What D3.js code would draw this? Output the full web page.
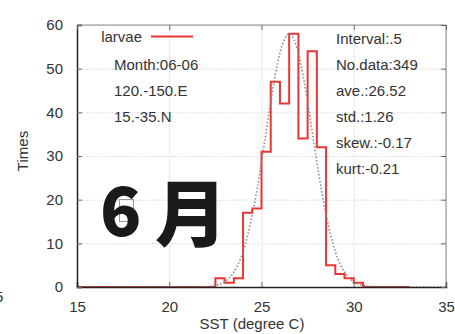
<!DOCTYPE html>
<html>
<head>
<meta charset="utf-8">
<script src="https://cdn.jsdelivr.net/npm/d3@7"></script>
<style>
  body { margin: 0; background: #fff; }
  text { font-family: "Liberation Sans", Arial, sans-serif; }
</style>
</head>
<body>
<div id="chart"></div>
<script>
// histogram bins (left edge, width .5) and counts
var binLeft = [22.5, 23, 23.5, 24, 24.5, 25, 25.5, 26, 26.5, 27, 27.5, 28, 28.5, 29, 29.5, 30];
var counts  = [2, 1, 2, 17, 18, 31, 47, 42, 58, 34, 54, 32, 5, 3, 2, 1];

// normal curve
var fitX = [15, 21, 21.5, 22, 22.5, 23, 23.5, 24, 24.5, 25, 25.5, 26, 26.5, 27, 27.5, 28, 28.5, 29, 29.5, 30, 30.5, 31, 31.5, 32, 35];
var fitY = [0, 0, 0.05, 0.1, 0.4, 1.2, 3.4, 8.1, 16.5, 28.6, 42.4, 53.6, 58, 53.6, 42.4, 28.6, 16.5, 8.1, 3.4, 1.2, 0.4, 0.1, 0.05, 0, 0];

var xTicks = [15, 20, 25, 30, 35];
var yTicks = [0, 10, 20, 30, 40, 50, 60];

var leftNotes  = ["Month:06-06", "120.-150.E", "15.-35.N"];
var rightNotes = ["Interval:.5", "No.data:349", "ave.:26.52", "std.:1.26", "skew.:-0.17", "kurt:-0.21"];

// set the dimensions of the graph
var W = 455, H = 334;
var pLeft = 77, pRight = 446, pTop = 25, pBottom = 287;

var svg = d3.select("#chart")
  .append("svg")
    .attr("width", W)
    .attr("height", H);

var x = d3.scaleLinear().domain([15, 35]).range([pLeft, pRight]);
var y = d3.scaleLinear().domain([0, 60]).range([pBottom, pTop]);

// grid
svg.append("g")
  .attr("transform", "translate(0," + pBottom + ")")
  .call(d3.axisBottom(x).tickValues(xTicks).tickSize(-(pBottom - pTop)).tickFormat(""))
  .call(function(g) {
    g.select(".domain").remove();
    g.selectAll("line").attr("stroke", "#c8ccd8").attr("stroke-dasharray", "1,1.5");
  });
svg.append("g")
  .attr("transform", "translate(" + pLeft + ",0)")
  .call(d3.axisLeft(y).tickValues(yTicks).tickSize(-(pRight - pLeft)).tickFormat(""))
  .call(function(g) {
    g.select(".domain").remove();
    g.selectAll("line").attr("stroke", "#c8ccd8").attr("stroke-dasharray", "1,1.5");
  });

// big month label
svg.append("rect")
  .attr("x", 119.5).attr("y", 199.5).attr("width", 14).attr("height", 22)
  .attr("fill", "none").attr("stroke", "#999").attr("stroke-width", 1);
svg.append("text")
  .attr("x", 100).attr("y", 236)
  .style("font-family", "'Noto Sans CJK JP', 'Noto Sans', sans-serif")
  .style("font-weight", 900)
  .attr("font-size", "68px")
  .attr("fill", "#1a1a1a")
  .text("6");
svg.append("text")
  .attr("x", 155).attr("y", 240)
  .style("font-family", "'Noto Sans CJK JP', sans-serif")
  .style("font-weight", 900)
  .attr("font-size", "72px")
  .attr("fill", "#1a1a1a")
  .text("月");

// histogram steps
var steps = [{x: 15, y: 0}];
binLeft.forEach(function(b, i) { steps.push({x: b, y: counts[i]}); });
steps.push({x: binLeft[binLeft.length - 1] + 0.5, y: 0});
steps.push({x: 33, y: 0});

svg.append("path")
  .datum(steps)
  .attr("fill", "none")
  .attr("stroke", "#ee3333")
  .attr("stroke-width", 2)
  .attr("d", d3.line()
    .x(function(d) { return x(d.x); })
    .y(function(d) { return y(d.y); })
    .curve(d3.curveStepAfter));

// fitted curve
svg.append("path")
  .datum(fitX.map(function(v, i) { return [v, fitY[i]]; }))
  .attr("fill", "none")
  .attr("stroke", "#8a8a8a")
  .attr("stroke-width", 1.6)
  .attr("stroke-dasharray", "1.5,2")
  .attr("d", d3.line()
    .x(function(d) { return x(d[0]); })
    .y(function(d) { return y(d[1]); })
    .curve(d3.curveMonotoneX));

// border
svg.append("line").attr("x1", pLeft).attr("x2", pRight).attr("y1", pTop).attr("y2", pTop)
  .attr("stroke", "#888").attr("stroke-width", 1);
svg.append("line").attr("x1", pRight).attr("x2", pRight).attr("y1", pTop).attr("y2", pBottom)
  .attr("stroke", "#888").attr("stroke-width", 1);

// axes with inward ticks
svg.append("g")
  .attr("transform", "translate(0," + pBottom + ")")
  .call(d3.axisBottom(x).tickValues(xTicks).tickSize(-5).tickPadding(14))
  .call(function(g) {
    g.select(".domain").attr("stroke", "#222").attr("stroke-width", 1.5);
    g.selectAll("line").attr("stroke", "#666");
    g.selectAll("text").attr("font-size", "15px").attr("fill", "#333")
      .style("font-family", "'Liberation Sans', Arial, sans-serif");
  });
svg.append("g")
  .attr("transform", "translate(" + pLeft + ",0)")
  .call(d3.axisLeft(y).tickValues(yTicks).tickSize(-5).tickPadding(14))
  .call(function(g) {
    g.select(".domain").attr("stroke", "#222").attr("stroke-width", 1.5);
    g.selectAll("line").attr("stroke", "#666");
    g.selectAll("text").attr("font-size", "15px").attr("fill", "#333")
      .style("font-family", "'Liberation Sans', Arial, sans-serif");
  });
// mirror ticks top / right
svg.append("g")
  .attr("transform", "translate(0," + pTop + ")")
  .call(d3.axisTop(x).tickValues(xTicks).tickSize(-5).tickFormat(""))
  .call(function(g) { g.select(".domain").remove(); g.selectAll("line").attr("stroke", "#666"); });
svg.append("g")
  .attr("transform", "translate(" + pRight + ",0)")
  .call(d3.axisRight(y).tickValues(yTicks).tickSize(-5).tickFormat(""))
  .call(function(g) { g.select(".domain").remove(); g.selectAll("line").attr("stroke", "#666"); });

// axis titles
svg.append("text")
  .attr("x", 252).attr("y", 329)
  .attr("text-anchor", "middle")
  .attr("font-size", "15px")
  .attr("fill", "#333")
  .text("SST (degree C)");
svg.append("text")
  .attr("transform", "translate(28,151) rotate(-90)")
  .attr("text-anchor", "middle")
  .attr("font-size", "15px")
  .attr("fill", "#333")
  .text("Times");
// stray label cut at the left edge
svg.append("text")
  .attr("x", -5).attr("y", 302)
  .attr("font-size", "15px")
  .attr("fill", "#333")
  .text("5");

// legend
svg.append("text")
  .attr("x", 142).attr("y", 42)
  .attr("text-anchor", "end")
  .attr("font-size", "15px")
  .attr("fill", "#333")
  .text("larvae");
svg.append("line")
  .attr("x1", 151).attr("x2", 193).attr("y1", 36.5).attr("y2", 36.5)
  .attr("stroke", "#ee3333").attr("stroke-width", 2);

// notes
svg.selectAll(".lnote")
  .data(leftNotes)
  .enter()
  .append("text")
    .attr("class", "lnote")
    .attr("x", 114)
    .attr("y", function(d, i) { return 70 + i * 26; })
    .attr("font-size", "15px")
    .attr("fill", "#333")
    .text(function(d) { return d; });
svg.selectAll(".rnote")
  .data(rightNotes)
  .enter()
  .append("text")
    .attr("class", "rnote")
    .attr("x", 336)
    .attr("y", function(d, i) { return 44 + i * 26; })
    .attr("font-size", "15px")
    .attr("fill", "#333")
    .text(function(d) { return d; });
</script>
</body>
</html>
